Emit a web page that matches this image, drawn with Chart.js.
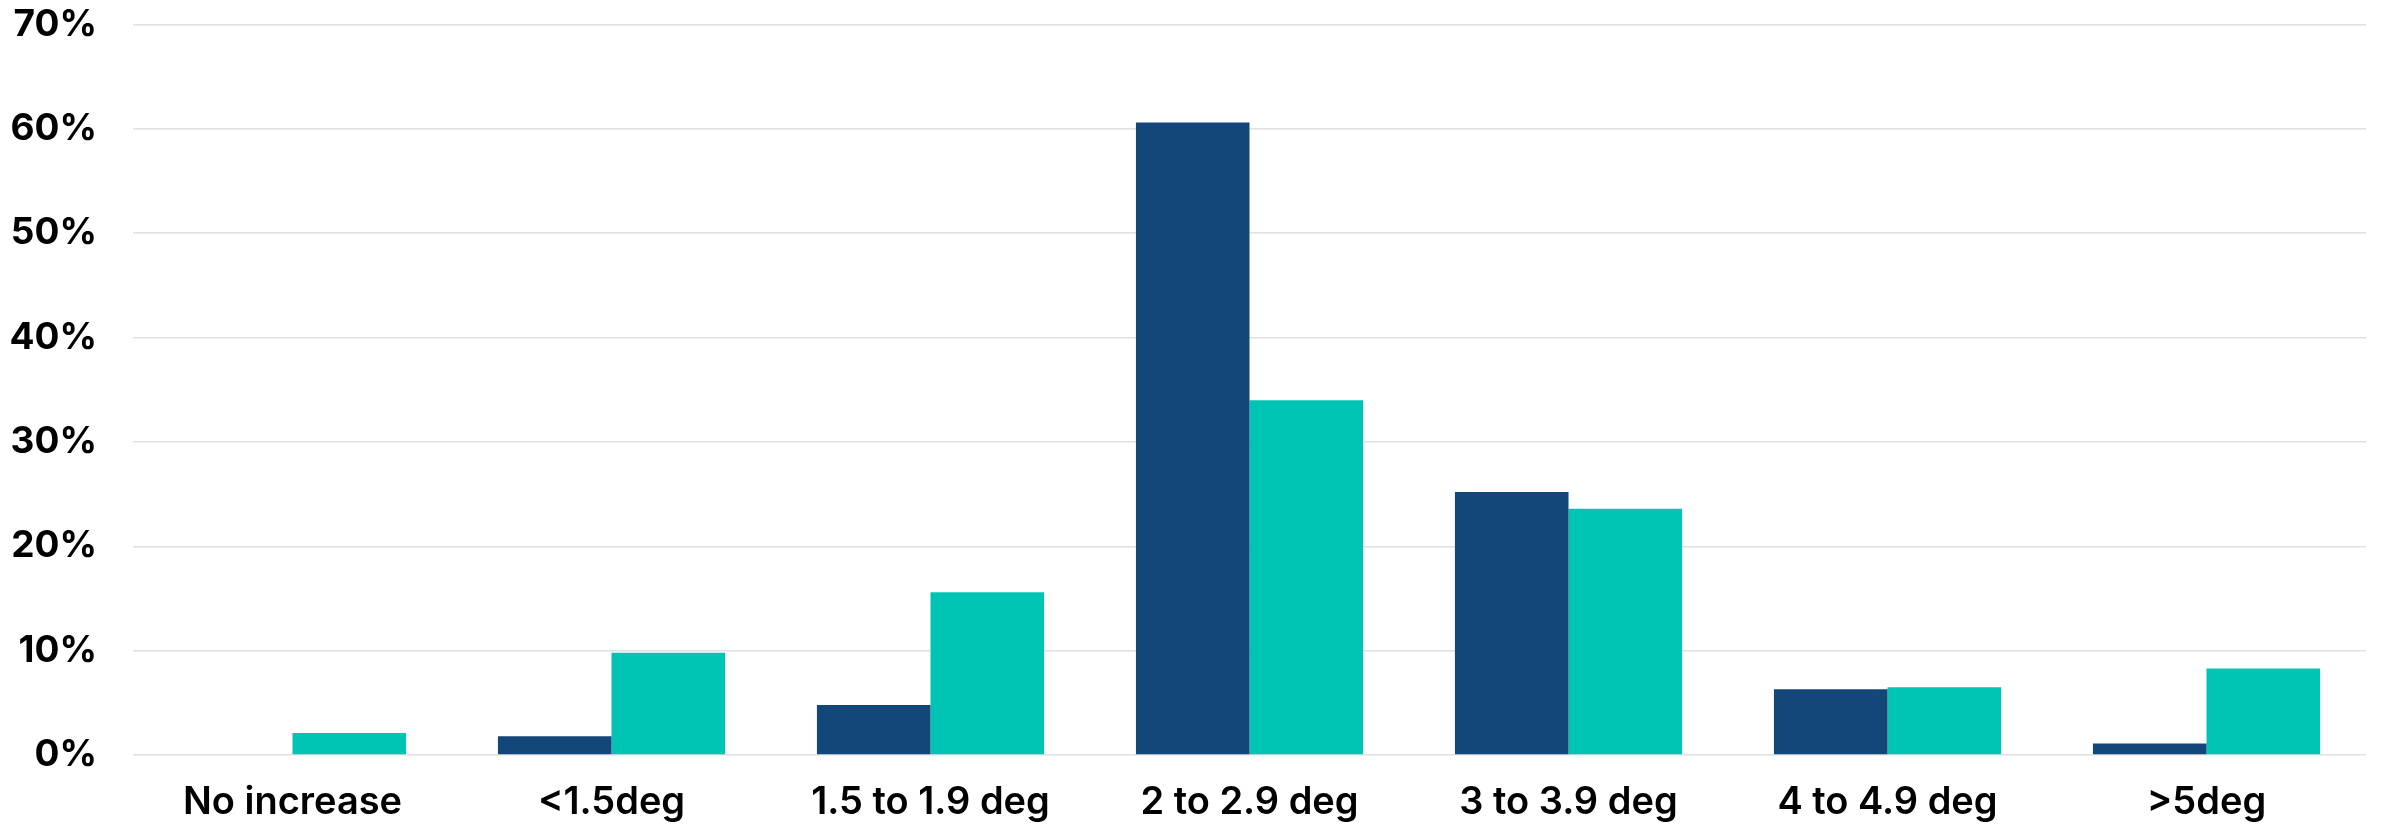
<!DOCTYPE html>
<html>
<head>
<meta charset="utf-8">
<script src="https://cdn.jsdelivr.net/npm/chart.js@4/dist/chart.umd.min.js"></script>
<style>
  html, body { margin: 0; padding: 0; background: #ffffff; }
  #wrap { width: 2381px; height: 829px; }
</style>
</head>
<body>
<div id="wrap"><canvas id="c" width="2381" height="829"></canvas></div>
<script>
const categories = ["No increase", "<1.5deg", "1.5 to 1.9 deg", "2 to 2.9 deg", "3 to 3.9 deg", "4 to 4.9 deg", ">5deg"];
const seriesA = [0, 1.8, 4.8, 60.6, 25.2, 6.3, 1.1];
const seriesB = [2.1, 9.8, 15.6, 34.0, 23.6, 6.5, 8.3];
const yTicks = [0, 10, 20, 30, 40, 50, 60, 70];

const ctx = document.getElementById('c').getContext('2d');
new Chart(ctx, {
  type: 'bar',
  data: {
    labels: categories,
    datasets: [
      { label: 'A', data: seriesA, backgroundColor: '#13477A', borderWidth: 0 },
      { label: 'B', data: seriesB, backgroundColor: '#00C4B3', borderWidth: 0 }
    ]
  },
  options: {
    responsive: false,
    animation: false,
    layout: { padding: { left: 0, right: 15, top: 0, bottom: 0 } },
    datasets: { bar: { categoryPercentage: 0.712, barPercentage: 1.0 } },
    plugins: { legend: { display: false }, tooltip: { enabled: false } },
    scales: {
      x: {
        afterFit: (s) => { s.height = 74; s.paddingLeft = 0; s.paddingRight = 0; },
        grid: { display: false, drawTicks: false },
        border: { display: false },
        ticks: {
          color: '#000000',
          padding: 25,
          maxRotation: 0,
          autoSkip: false,
          font: { family: 'Inter', size: 38, weight: '600' }
        }
      },
      y: {
        min: 0,
        max: 70,
        afterFit: (s) => { s.width = 133; s.paddingTop = 24.5; s.paddingBottom = 0; },
        afterBuildTicks: (s) => { s.ticks = yTicks.map(v => ({ value: v })); },
        grid: { color: '#e0e0e0', lineWidth: 1.5, drawTicks: false },
        border: { display: false },
        ticks: {
          color: '#000000',
          padding: 36,
          font: { family: 'Inter', size: 37, weight: '700' },
          callback: (v) => v + '%'
        }
      }
    }
  }
});
</script>
</body>
</html>
